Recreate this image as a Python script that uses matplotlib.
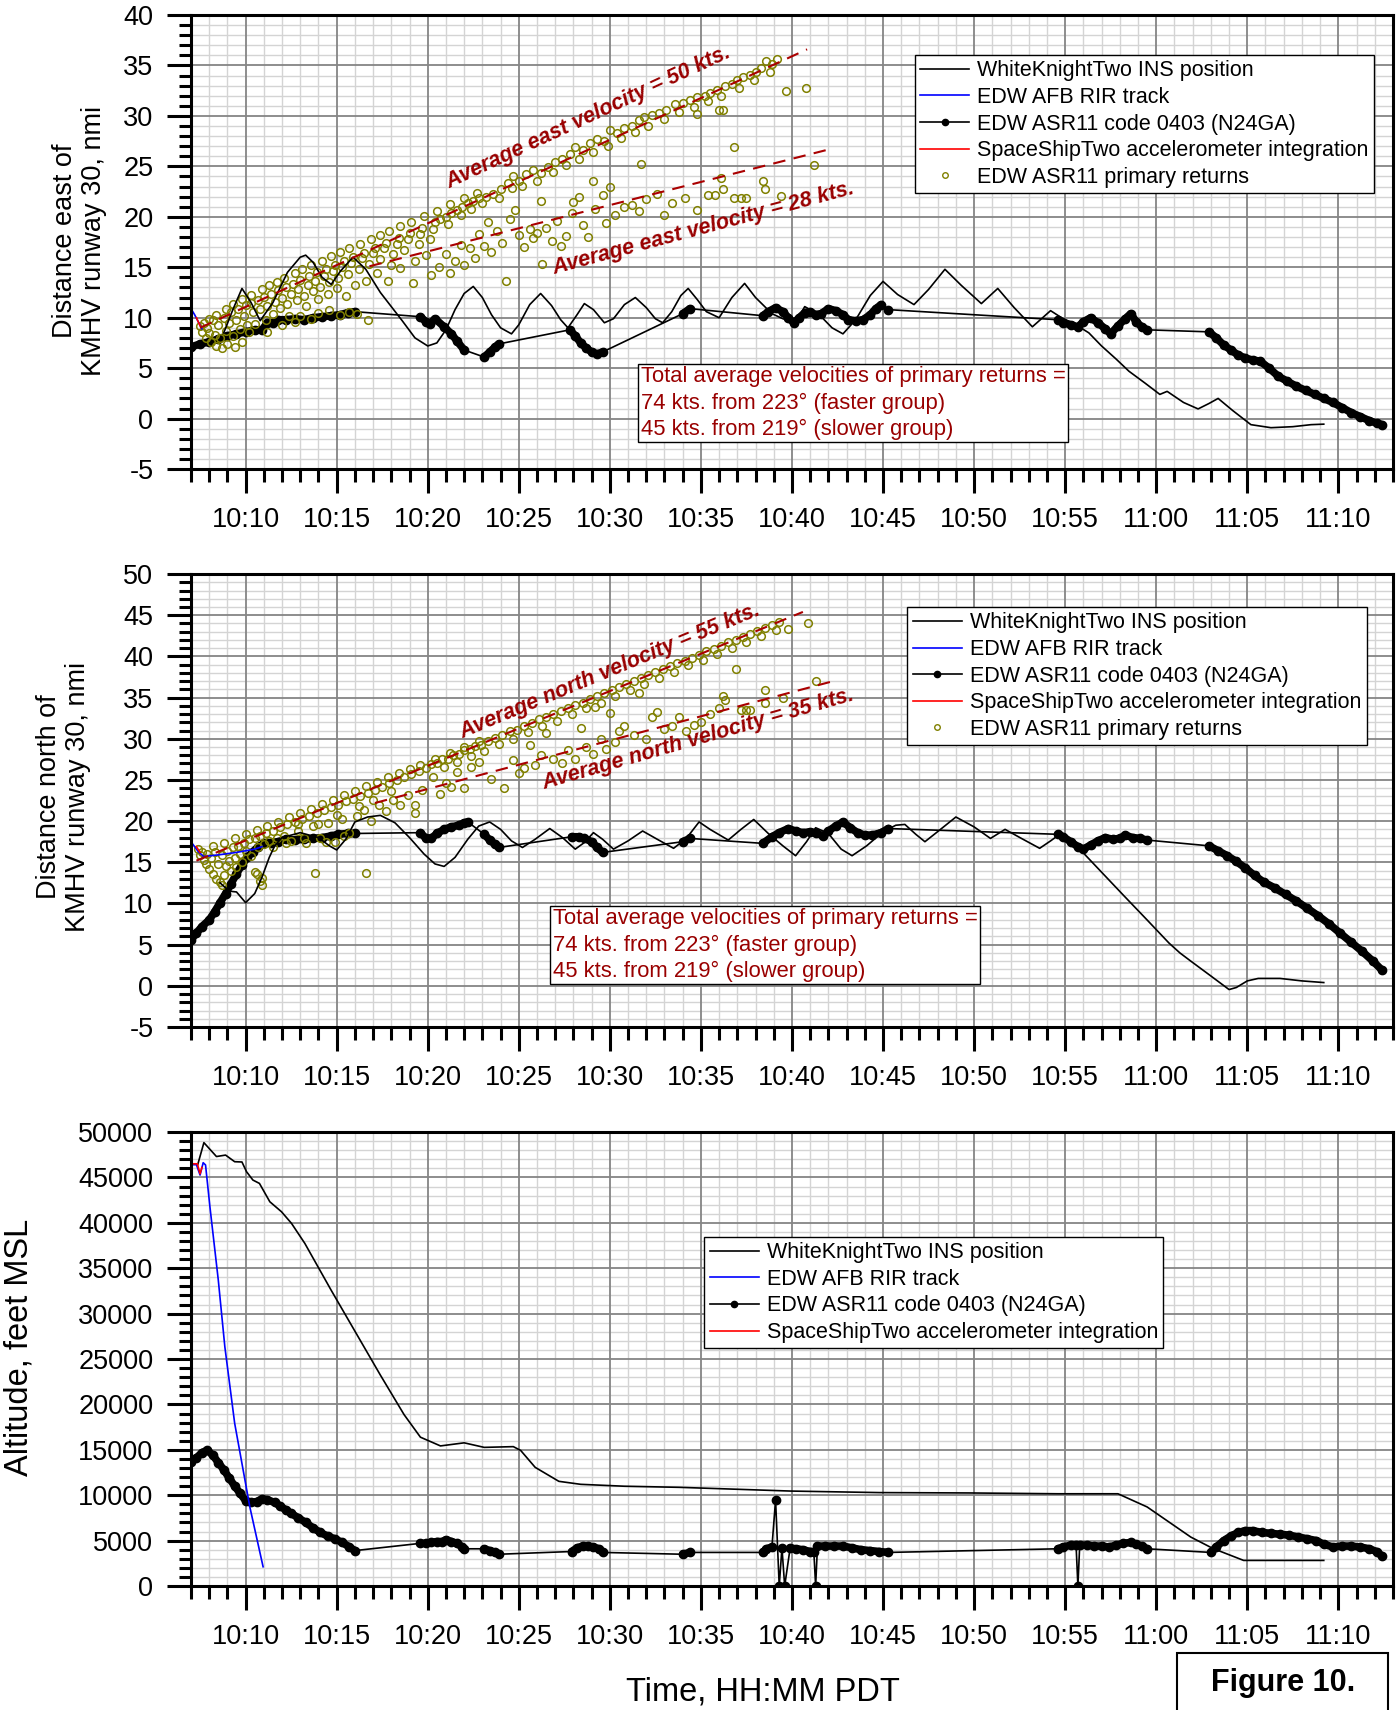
import numpy as np
import matplotlib
matplotlib.use("Agg")
import matplotlib.pyplot as plt
from matplotlib.lines import Line2D
from matplotlib.patches import Rectangle
from matplotlib.ticker import MultipleLocator, FuncFormatter

plt.rcParams['font.family'] = ['Liberation Sans', 'DejaVu Sans']
plt.rcParams['axes.unicode_minus'] = False

# time axis: minutes after 10:00 PDT
# ---------------- panel 1: distance east ----------------
ins_east_t = [8.8, 9.3, 9.8, 10.3, 10.8, 11.5, 12.3, 13.0, 13.3, 13.7, 14.2, 14.7, 15.2, 15.9, 16.6,
              17.4, 18.6, 19.3, 20.0, 20.5, 21.0, 21.5, 22.0, 22.5, 23.0, 23.5, 24.0, 24.6, 25.0,
              25.6, 26.2, 26.8, 27.3, 27.7, 28.2, 28.6, 29.1, 29.7, 30.2, 30.8, 31.4, 32.0, 32.5,
              32.9, 33.4, 33.9, 34.3, 34.8, 35.3, 36.0, 36.7, 37.4, 38.0, 38.9, 39.5, 40.2, 40.7,
              41.5, 42.2, 42.8, 43.5, 44.3, 45.0, 45.8, 46.7, 47.5, 48.4, 49.3, 50.4, 51.3, 52.2,
              53.2, 54.2, 54.8, 55.5, 56.3, 57.0, 57.8, 58.5, 59.4, 60.2, 60.6, 61.5, 62.3, 62.9,
              63.4, 64.2, 65.2, 66.3, 67.5, 68.5, 69.2]
ins_east_v = [8.5, 10.8, 12.9, 11.5, 9.7, 11.5, 14.5, 16.0, 16.2, 15.5, 14.0, 13.3, 14.6, 16.0, 14.8,
              12.5, 9.7, 8.0, 7.2, 7.5, 8.8, 10.8, 12.4, 13.1, 12.0, 10.3, 9.0, 8.4, 9.3,
              11.3, 12.4, 11.2, 9.8, 9.0, 10.3, 11.4, 10.8, 9.5, 9.9, 11.3, 12.0, 11.0, 9.9,
              9.5, 10.6, 12.2, 12.9, 11.8, 10.6, 10.0, 12.0, 13.4, 12.0, 10.4, 9.9, 9.5, 11.1,
              10.3, 9.0, 8.4, 9.8, 12.2, 13.6, 12.3, 11.3, 12.8, 14.8, 13.2, 11.4, 12.9, 11.0,
              9.1, 10.7, 10.0, 9.4, 8.5, 7.2, 5.9, 4.7, 3.5, 2.4, 2.7, 1.6, 0.96, 1.5,
              2.0, 0.8, -0.6, -0.9, -0.8, -0.6, -0.55]

rir_east_t = [7.0, 7.2, 7.4, 7.6]
rir_east_v = [10.9, 10.3, 9.6, 8.9]
ss2_east_t = [7.3, 7.5]
ss2_east_v = [10.0, 9.2]

asr_east_segs = [
    ([7.0, 7.5, 8.0, 8.5, 9.0, 9.5, 10.0, 10.5, 10.9, 11.2, 11.5, 11.8, 12.2, 12.7, 13.2, 13.7,
      14.2, 14.7, 15.2, 15.6, 16.0],
     [7.1, 7.4, 7.6, 7.9, 8.2, 8.4, 8.6, 8.8, 8.8, 9.5, 9.5, 9.8, 9.8, 9.9, 9.8, 10.0,
      10.1, 10.2, 10.3, 10.5, 10.6]),
    ([19.6, 19.9, 20.1, 20.4, 20.9, 21.3, 21.6, 22.0],
     [10.1, 9.6, 9.4, 9.9, 9.1, 8.4, 7.7, 6.8]),
    ([23.1, 23.4, 23.7, 23.9], [6.1, 6.6, 7.1, 7.4]),
    ([27.8, 28.1, 28.4, 28.7, 29.0, 29.3, 29.6], [8.8, 8.2, 7.5, 7.0, 6.6, 6.4, 6.6]),
    ([34.0, 34.4], [10.4, 10.9]),
    ([38.4, 38.7, 39.1, 39.5, 39.8, 40.1, 40.4, 40.7, 41.0, 41.3, 41.6, 42.0, 42.4, 42.8, 43.1,
      43.5, 43.9, 44.3, 44.6, 44.9],
     [10.2, 10.6, 11.0, 10.6, 10.0, 9.5, 10.0, 10.5, 10.6, 10.3, 10.4, 10.9, 10.7, 10.3, 9.8,
      9.7, 9.8, 10.3, 10.9, 11.3]),
    ([45.3], [10.8]),
    ([54.6, 54.9, 55.3, 55.7, 56.0, 56.4, 56.8, 57.2, 57.5, 57.9, 58.3, 58.6, 58.9, 59.2, 59.5],
     [9.8, 9.5, 9.3, 9.1, 9.6, 10.0, 9.5, 8.9, 8.4, 9.2, 9.9, 10.4, 9.6, 9.1, 8.8]),
    ([62.9, 63.3, 63.7, 64.1, 64.5, 64.9, 65.3, 65.7, 66.2, 66.7, 67.2, 67.7, 68.2, 68.7, 69.2,
      69.7, 70.2, 70.7, 71.2, 71.7, 72.1, 72.4],
     [8.6, 8.0, 7.3, 6.8, 6.3, 6.0, 5.8, 5.7, 5.0, 4.2, 3.7, 3.2, 2.8, 2.4, 2.0,
      1.6, 1.1, 0.6, 0.2, -0.2, -0.45, -0.6]),
]
asr_east_dense = [True, True, True, True, True, True, False, True, True]

primary_east = [
    (7.5, 9.2), (7.6, 8.6), (7.7, 9.5), (7.8, 8.0), (7.9, 9.0), (8.0, 8.5), (8.1, 7.6), (8.2, 9.8),
    (8.3, 8.3), (8.4, 7.2), (8.5, 9.3), (8.6, 8.0), (8.7, 7.0), (8.8, 10.0), (8.9, 8.7), (9.0, 7.4),
    (9.1, 9.5), (9.2, 10.6), (9.3, 8.2), (9.4, 7.1), (9.5, 9.8), (9.6, 10.9), (9.7, 8.9), (9.8, 7.6),
    (9.9, 10.2), (10.0, 11.3), (10.1, 9.3), (10.2, 8.6),
    (10.3, 11.5), (10.4, 10.6), (10.5, 9.4), (10.7, 11.8), (10.8, 10.9), (11.0, 12.1), (11.1, 9.8),
    (11.2, 11.2), (11.4, 12.4), (11.5, 10.4), (11.6, 11.6), (11.8, 12.7), (11.9, 11.0), (12.0, 12.0),
    (12.2, 13.0), (12.3, 11.4), (12.4, 10.2), (12.5, 12.4), (12.6, 13.3), (12.8, 11.8), (12.9, 12.8),
    (13.0, 13.7), (13.2, 12.2), (13.3, 11.2), (13.4, 13.2), (13.5, 14.1), (13.7, 12.6), (13.8, 13.6),
    (13.9, 14.5), (14.0, 11.9), (14.1, 13.0), (14.3, 14.1), (14.4, 14.8), (14.5, 12.4), (14.6, 13.5),
    (14.8, 14.6), (14.9, 15.2), (15.0, 12.9), (15.1, 13.9), (15.3, 15.0), (15.4, 15.6), (15.5, 12.2),
    (15.6, 14.3), (15.8, 15.4), (15.9, 16.0), (16.0, 13.2), (16.1, 10.4), (16.2, 14.8), (16.4, 15.9),
    (16.5, 16.4), (16.6, 13.6), (16.7, 9.8), (16.8, 15.3), (17.0, 16.4), (17.1, 16.9), (17.2, 14.4),
    (17.4, 15.8), (17.6, 16.9), (17.7, 17.4), (17.8, 13.6), (18.0, 15.2), (18.1, 16.3), (18.3, 17.3),
    (18.4, 17.9), (18.5, 14.9), (18.7, 16.7), (18.9, 17.8), (19.0, 18.4), (19.2, 13.4), (19.3, 15.6),
    (19.5, 17.3), (19.6, 18.3), (19.7, 18.9), (19.9, 16.2), (20.1, 17.8), (20.3, 18.8), (20.4, 19.5),
    (8.0, 9.9), (8.4, 10.3), (8.9, 10.9), (9.3, 11.4), (9.8, 11.9), (10.3, 12.3), (10.9, 12.8),
    (11.3, 13.2), (11.7, 13.5), (12.1, 13.9), (12.7, 14.4), (13.1, 14.8), (13.6, 15.2), (14.2, 15.6),
    (14.7, 16.1), (15.2, 16.5), (15.7, 16.9), (16.3, 17.3), (16.9, 17.8), (17.4, 18.2), (17.9, 18.6),
    (18.5, 19.1), (19.1, 19.5), (19.8, 20.1), (20.5, 20.6), (21.2, 21.3), (22.0, 21.9), (22.7, 22.4),
    (11.2, 8.6), (12.0, 9.3), (13.0, 10.2), (13.6, 9.9), (14.6, 10.8), (15.2, 10.3), (15.7, 10.6),
    (12.7, 9.6), (14.0, 10.5),
    (20.7, 19.8), (21.0, 20.0), (21.3, 20.4), (21.6, 20.7), (21.9, 21.0), (22.2, 21.4), (22.5, 21.6),
    (22.8, 21.9), (23.2, 22.0), (23.6, 22.3), (24.0, 22.8), (24.4, 23.4), (24.7, 24.0), (25.0, 23.6),
    (25.4, 24.2), (25.8, 24.6), (26.2, 24.3), (26.6, 24.9), (27.0, 25.4), (27.4, 25.7), (27.8, 26.2),
    (28.1, 26.9), (28.5, 26.6), (28.9, 27.3), (29.3, 27.7), (29.7, 27.5), (30.0, 28.6), (30.4, 28.3),
    (30.8, 28.8), (31.2, 29.0), (31.6, 29.6), (31.9, 29.9), (32.3, 30.1), (32.7, 30.3), (33.1, 30.6),
    (33.6, 31.2), (34.0, 31.3), (34.4, 31.6), (34.8, 31.9), (35.2, 32.0), (35.5, 32.3), (35.9, 32.6),
    (36.3, 33.0), (36.7, 33.2), (37.0, 33.6), (37.3, 33.9), (37.7, 34.1), (38.0, 34.4), (38.3, 34.8),
    (38.6, 35.4), (38.9, 35.1), (39.2, 35.6),
    (21.1, 19.3), (21.8, 20.2), (22.4, 20.8), (23.0, 21.4), (23.9, 21.9), (24.6, 22.9), (25.2, 23.1),
    (26.0, 23.6), (26.9, 24.4), (27.6, 25.1), (28.3, 25.7), (29.1, 26.4), (29.9, 27.0), (30.6, 27.8),
    (31.4, 28.4), (32.1, 29.0), (33.0, 29.7), (33.8, 30.4), (34.6, 30.9), (35.4, 31.5), (36.1, 32.0),
    (37.1, 32.8), (37.9, 33.6), (38.8, 34.4),
    (39.66, 32.5), (40.76, 32.8), (36.8, 26.9), (31.7, 25.2), (36.0, 30.6), (36.2, 30.6), (34.8, 30.2),
    (20.2, 14.2), (20.6, 15.0), (21.0, 16.3), (21.2, 14.4), (21.5, 15.6), (21.8, 17.2), (22.0, 15.2),
    (22.3, 16.9), (22.6, 15.9), (22.8, 18.3), (23.1, 17.1), (23.3, 19.5), (23.5, 16.5), (23.8, 18.6),
    (24.1, 17.4), (24.3, 13.6), (24.5, 19.8), (24.8, 20.7), (25.0, 18.2), (25.3, 17.0), (25.6, 18.8),
    (25.8, 17.9), (26.0, 18.4), (26.2, 21.6), (26.3, 15.3), (26.5, 18.9), (26.8, 17.6), (27.1, 19.6),
    (27.3, 17.1), (27.6, 18.1), (27.9, 20.4), (28.0, 21.5), (28.3, 22.0), (28.5, 19.2), (28.8, 18.0),
    (29.1, 23.6), (29.2, 20.8), (29.6, 22.2), (29.8, 19.4), (30.0, 23.0), (30.3, 20.2), (30.8, 21.0),
    (31.2, 21.2), (31.6, 20.6), (32.0, 21.8), (32.6, 22.3), (33.0, 20.2), (33.4, 21.4), (34.1, 21.9),
    (34.8, 20.7), (35.4, 22.2), (35.8, 22.2), (36.1, 23.8), (36.2, 22.8), (36.8, 21.9), (37.2, 21.9),
    (37.5, 21.9), (38.4, 23.6), (38.5, 22.8), (39.4, 22.1), (41.2, 25.1),
]

fast_east_t, fast_east_v = [7.5, 40.83], [9.0, 36.6]
slow_east_t, slow_east_v = [16.8, 41.85], [15.1, 26.6]

# ---------------- panel 2: distance north ----------------
ins_north_t = [8.6, 9.1, 9.5, 10.0, 10.5, 10.9, 11.3, 11.6, 12.0, 13.0, 14.0, 14.6, 15.0, 15.5, 16.0,
               16.7, 17.4, 18.2, 19.0, 19.8, 20.4, 20.9, 21.5, 22.2, 22.8, 23.4, 24.0, 24.6, 25.2,
               25.9, 26.7, 27.4, 28.1, 28.6, 29.1, 29.6, 30.2, 31.0, 31.8, 32.6, 33.5, 34.2, 34.9,
               35.5, 36.5, 37.2, 37.9, 38.7, 39.5, 40.2, 40.8, 41.3, 42.0, 42.7, 43.3, 44.1, 45.0,
               45.7, 46.2, 46.8, 47.3, 48.1, 49.0, 50.0, 50.9, 51.7, 52.6, 53.6, 54.2, 54.7, 55.3,
               55.8, 57.0, 58.2, 59.5, 60.7, 61.3, 61.9, 63.0, 64.0, 64.4, 65.0, 65.6, 66.8, 68.0, 69.2]
ins_north_v = [12.5, 11.5, 11.4, 10.1, 11.2, 13.2, 15.6, 17.0, 18.0, 18.6, 18.0, 17.0, 16.5, 17.8, 19.9,
               20.5, 20.7, 19.8, 18.0, 16.0, 14.8, 14.5, 15.6, 17.8, 19.4, 19.9, 19.0, 17.6, 16.8,
               17.8, 19.1, 18.0, 16.6, 17.4, 18.6, 17.8, 16.6, 17.6, 18.8, 17.8, 16.7, 17.9, 19.9,
               19.0, 17.7, 19.0, 20.2, 18.5, 17.0, 15.8, 17.5, 19.2, 18.5, 16.6, 15.8, 17.0, 18.7,
               19.5, 19.6, 18.4, 17.5, 18.9, 20.5, 19.3, 17.9, 19.0, 17.9, 16.7, 17.6, 18.4, 17.6,
               16.6, 13.8, 11.0, 8.0, 5.2, 4.0, 3.0, 1.2, -0.45, -0.2, 0.6, 0.9, 0.9, 0.6, 0.4]

rir_north_t = [7.0, 7.4, 7.7, 8.5, 9.5, 10.5, 10.9]
rir_north_v = [17.5, 16.3, 15.7, 15.9, 16.2, 16.6, 16.9]
ss2_north_t = [7.3, 7.5]
ss2_north_v = [16.9, 16.2]

asr_north_segs = [
    ([7.0, 7.3, 7.6, 8.0, 8.3, 8.6, 8.9, 9.2, 9.5, 9.8, 10.1, 10.4, 10.7, 11.0, 11.4, 11.8,
      12.2, 12.7, 13.2, 13.7, 14.2, 14.7, 15.1, 15.6, 16.0],
     [5.6, 6.4, 7.2, 8.0, 9.0, 10.1, 11.2, 12.4, 13.6, 14.7, 15.6, 16.3, 16.9, 17.3, 17.4, 17.5,
      17.8, 17.7, 17.8, 17.9, 18.0, 18.2, 18.4, 18.5, 18.5]),
    ([19.6, 19.9, 20.2, 20.5, 20.9, 21.3, 21.7, 22.0, 22.2],
     [18.6, 17.9, 17.9, 18.5, 19.0, 19.3, 19.5, 19.8, 19.9]),
    ([23.1, 23.4, 23.7, 23.9], [18.4, 17.7, 17.2, 16.8]),
    ([27.9, 28.3, 28.6, 29.0, 29.3, 29.6], [18.1, 18.1, 17.9, 17.5, 16.8, 16.2]),
    ([34.0, 34.4], [17.5, 17.9]),
    ([38.4, 38.9, 39.3, 39.8, 40.2, 40.6, 41.0, 41.3, 41.7, 42.0, 42.4, 42.8, 43.2, 43.6, 44.0,
      44.4, 44.9, 45.3],
     [17.3, 18.1, 18.6, 19.1, 18.8, 18.6, 18.7, 18.6, 18.2, 18.8, 19.4, 19.9, 19.2, 18.6, 18.3,
      18.3, 18.6, 19.1]),
    ([54.6, 54.9, 55.3, 55.7, 56.0, 56.4, 56.8, 57.2, 57.6, 58.0, 58.3, 58.7, 59.1, 59.5],
     [18.4, 18.1, 17.5, 16.9, 16.6, 17.1, 17.6, 18.0, 17.8, 17.9, 18.3, 18.0, 17.9, 17.7]),
    ([62.9, 63.4, 63.9, 64.4, 64.9, 65.4, 65.9, 66.5, 67.1, 67.7, 68.3, 68.9, 69.5, 70.1, 70.7,
      71.3, 71.9, 72.4],
     [17.0, 16.4, 15.8, 15.1, 14.3, 13.4, 12.6, 11.9, 11.1, 10.3, 9.4, 8.5, 7.5, 6.4, 5.3,
      4.2, 3.0, 1.9]),
]
asr_north_dense = [True] * 8

primary_north = [
    (7.4, 16.6), (7.5, 15.9), (7.6, 16.3), (7.7, 15.3), (7.8, 14.8), (7.9, 16.0), (8.0, 14.2), (8.1, 15.5),
    (8.2, 13.6), (8.3, 16.2), (8.4, 13.0), (8.5, 14.8), (8.6, 12.6), (8.7, 12.2), (8.7, 15.9), (8.8, 13.4),
    (8.9, 14.5), (9.0, 16.4), (9.1, 15.2), (9.2, 13.9), (9.3, 16.9), (9.4, 15.5), (9.5, 14.4), (9.6, 17.0),
    (9.7, 16.0), (9.8, 15.0), (9.9, 17.4), (10.0, 16.4), (10.2, 17.8), (10.3, 15.8), (10.5, 13.8),
    (10.6, 13.6), (10.9, 12.2), (10.7, 16.9),
    (10.5, 17.9), (10.8, 18.2), (11.0, 17.2), (11.1, 18.5), (11.3, 17.6), (11.5, 18.8), (11.7, 17.9),
    (11.9, 19.3), (12.1, 18.2), (12.3, 19.6), (12.5, 17.6), (12.7, 19.9), (12.9, 18.8), (13.1, 20.2),
    (13.3, 17.4), (13.5, 20.6), (13.7, 19.4), (13.8, 13.7), (13.9, 21.0), (14.1, 18.0), (14.3, 21.3),
    (14.5, 19.8), (14.7, 21.7), (14.9, 17.5), (15.1, 22.0), (15.3, 20.2), (15.5, 22.4), (15.7, 18.6),
    (15.9, 22.7), (16.1, 20.6), (16.3, 23.1), (16.5, 21.4), (16.6, 13.7), (16.7, 23.4), (16.9, 20.0),
    (17.1, 23.8), (17.3, 22.0), (17.5, 24.2), (17.7, 21.2), (17.9, 24.6), (18.1, 22.6), (18.3, 25.0),
    (18.5, 21.9), (18.7, 25.3), (18.9, 23.2), (19.1, 25.7), (19.3, 22.0), (19.5, 26.1), (19.7, 23.8),
    (19.9, 26.5), (19.3, 21.0),
    (8.2, 17.0), (8.8, 17.3), (9.4, 17.9), (10.0, 18.4), (10.6, 18.9), (11.2, 19.4), (11.8, 19.9),
    (12.4, 20.5), (13.0, 21.0), (13.6, 21.5), (14.2, 22.1), (14.8, 22.6), (15.4, 23.2), (16.0, 23.7),
    (16.6, 24.3), (17.2, 24.7), (17.8, 25.3), (18.4, 25.8), (19.0, 26.3), (19.6, 26.8), (20.4, 27.5),
    (21.2, 28.3), (22.0, 29.0), (22.8, 29.7), (12.2, 17.4), (13.2, 17.9), (14.4, 17.5), (15.4, 18.2),
    (11.5, 16.9), (10.9, 13.1), (10.8, 12.7), (12.9, 19.6), (14.0, 19.7), (15.0, 20.8), (16.2, 21.8),
    (17.0, 22.6), (18.0, 23.6),
    (20.2, 26.9), (20.5, 27.0), (20.8, 27.5), (21.1, 27.6), (21.4, 28.0), (21.7, 28.2), (22.0, 28.6),
    (22.3, 28.7), (22.6, 29.1), (22.9, 29.3), (23.3, 29.7), (23.7, 30.1), (24.1, 30.4), (24.5, 30.9),
    (24.9, 31.1), (25.3, 31.6), (25.7, 31.9), (26.1, 32.4), (26.5, 32.6), (26.9, 33.0), (27.3, 33.4),
    (27.7, 33.7), (28.1, 34.1), (28.5, 34.4), (28.9, 34.8), (29.3, 35.2), (29.7, 35.5), (30.1, 35.9),
    (30.5, 36.3), (30.9, 36.7), (31.3, 37.0), (31.7, 37.4), (32.1, 37.7), (32.5, 38.1), (32.9, 38.5),
    (33.3, 38.8), (33.7, 39.2), (34.1, 39.5), (34.5, 39.8), (34.9, 40.2), (35.3, 40.6), (35.7, 40.9),
    (36.1, 41.3), (36.5, 41.7), (36.9, 42.0), (37.3, 42.4), (37.7, 42.7), (38.1, 43.1), (38.5, 43.4),
    (38.9, 43.8), (39.3, 44.2),
    (20.9, 26.6), (21.6, 27.2), (22.4, 27.9), (23.1, 28.5), (23.9, 29.4), (24.7, 30.0), (25.5, 30.8),
    (26.3, 31.5), (27.1, 32.2), (27.9, 33.0), (28.7, 33.7), (29.5, 34.4), (30.3, 35.2), (31.1, 35.9),
    (31.9, 36.7), (32.7, 37.4), (33.5, 38.1), (34.3, 38.9), (35.1, 39.6), (35.9, 40.3), (36.7, 41.0),
    (37.5, 41.8), (38.3, 42.5), (39.1, 43.2),
    (20.3, 25.3), (20.7, 23.3), (21.0, 24.6), (21.3, 24.2), (21.6, 26.0), (22.0, 24.0), (22.4, 26.6),
    (22.8, 27.2), (23.5, 25.1), (24.2, 24.0), (24.7, 27.4),
    (25.0, 25.9), (25.3, 26.5), (25.6, 29.2), (25.9, 26.8), (26.2, 28.0), (26.5, 30.7), (26.9, 27.6),
    (27.4, 27.1), (27.7, 28.6), (28.1, 27.6), (28.4, 31.3), (28.7, 29.0), (29.1, 28.1), (29.2, 33.9),
    (29.5, 30.0), (29.8, 28.7), (30.0, 33.1), (30.3, 29.6), (30.5, 30.9), (30.8, 31.5), (31.3, 30.5),
    (31.6, 35.6), (32.0, 30.0), (32.3, 32.6), (32.6, 33.3), (33.0, 31.2), (33.4, 31.5), (33.8, 32.6),
    (34.2, 31.0), (34.6, 31.7), (35.0, 32.0), (35.5, 33.0), (36.0, 33.7), (36.2, 35.2), (36.3, 34.7),
    (36.9, 38.5), (37.2, 33.5), (37.5, 33.5), (37.7, 33.5), (38.5, 35.9), (38.5, 34.4), (39.5, 35.0),
    (39.8, 43.3), (40.9, 44.1), (41.3, 37.0),
]

fast_north_t, fast_north_v = [7.3, 40.6], [15.2, 45.4]
slow_north_t, slow_north_v = [17.1, 42.1], [22.2, 36.9]

# ---------------- panel 3: altitude ----------------
ins_alt_t = [7.37, 7.71, 8.4, 8.9, 9.4, 9.8, 10.05, 10.4, 10.76, 11.33, 11.97, 12.52, 13.25, 14.7,
             15.9, 17.4, 18.7, 19.6, 20.7, 22.0, 23.1, 24.7, 25.1, 25.9, 27.2, 28.4, 30.8, 33.8,
             35.0, 39.9, 44.8, 49.7, 54.6, 57.9, 59.5, 60.7, 61.9, 63.1, 64.8, 69.2]
ins_alt_v = [46400, 48830, 47300, 47460, 46730, 46700, 45630, 44710, 44340, 42320, 41220, 39940, 37740,
             32570, 28420, 23230, 18880, 16390, 15430, 15770, 15270, 15350, 14940, 13070, 11530,
             11200, 10990, 10870, 10790, 10460, 10290, 10250, 10160, 10160, 8710, 7050, 5390, 4150,
             2820, 2820]

rir_alt_t = [7.0, 7.3, 7.5, 7.67, 7.8, 8.04, 8.5, 8.86, 9.4, 10.23, 10.96]
rir_alt_v = [46400, 46400, 45260, 46620, 46370, 41780, 33700, 26350, 17920, 8730, 2120]
ss2_alt_t = [7.05, 7.35, 7.5, 7.6]
ss2_alt_v = [46500, 46500, 45400, 46100]

asr_alt_segs = [
    ([7.0, 7.3, 7.6, 7.9, 8.2, 8.5, 8.8, 9.1, 9.4, 9.7, 10.0, 10.3, 10.6, 10.9, 11.2, 11.6,
      11.9, 12.2, 12.5, 12.9, 13.3, 13.7, 14.1, 14.5, 14.9, 15.3, 15.7, 16.0],
     [13700, 14100, 14700, 14950, 14400, 13600, 12800, 11900, 11000, 10200, 9400, 9200, 9300,
      9600, 9500, 9200, 8800, 8400, 8000, 7500, 7000, 6400, 5900, 5500, 5200, 4800, 4300, 3900]),
    ([19.6, 19.9, 20.2, 20.5, 20.8, 21.0, 21.3, 21.6, 21.9, 22.0],
     [4700, 4700, 4800, 4900, 4900, 5100, 4900, 4700, 4300, 4100]),
    ([23.1, 23.4, 23.7, 23.9], [4100, 3900, 3700, 3500]),
    ([27.9, 28.2, 28.5, 28.8, 29.1, 29.4, 29.6], [3800, 4200, 4400, 4400, 4300, 4100, 3700]),
    ([34.0, 34.4], [3500, 3700]),
    ([38.4, 38.6, 38.9], [3700, 4100, 4300]),
    ([39.1, 39.3, 39.45, 39.6], [9460, 0, 4200, 0]),
    ([39.9, 40.2, 40.6, 41.0, 41.2], [4200, 4100, 4000, 3800, 3800]),
    ([41.3], [0]),
    ([41.4, 41.8, 42.3, 42.8, 43.3, 43.8, 44.3, 44.8, 45.3],
     [4400, 4400, 4400, 4400, 4200, 4000, 3900, 3800, 3700]),
    ([54.6, 54.9, 55.3, 55.6], [4100, 4300, 4500, 4500]),
    ([55.7], [0]),
    ([55.8, 56.2, 56.6, 57.0, 57.4, 57.8, 58.2, 58.6, 58.9, 59.2, 59.5],
     [4500, 4500, 4400, 4400, 4300, 4500, 4700, 4800, 4600, 4400, 4100]),
    ([63.0, 63.3, 63.7, 64.1, 64.5, 64.9, 65.3, 65.8, 66.3, 66.8, 67.3, 67.8, 68.3, 68.8, 69.2,
      69.7, 70.2, 70.7, 71.2, 71.7, 72.1, 72.4],
     [3700, 4300, 5000, 5500, 5900, 6100, 6100, 5900, 5800, 5700, 5600, 5400, 5200, 5000, 4600,
      4300, 4400, 4400, 4300, 4100, 3800, 3300]),
]
asr_alt_dense = [True, True, True, True, True, True, False, True, False, True, True, False, True, True]

legend_labels = ["WhiteKnightTwo INS position", "EDW AFB RIR track",
                 "EDW ASR11 code 0403 (N24GA)", "SpaceShipTwo accelerometer integration",
                 "EDW ASR11 primary returns"]
box_text = ("Total average velocities of primary returns =\n"
            "74 kts. from 223\u00b0 (faster group)\n"
            "45 kts. from 219\u00b0 (slower group)")

DARKRED = '#990000'
OLIVE = '#808000'
FS = 19.5
LEG_FS = 15.5


def time_label(m, pos):
    m = int(round(m))
    return f"{10 + m // 60}:{m % 60:02d}"


def style(ax, ylo, yhi, ymaj, ymin):
    # grid drawn by hand so the dark major lines sit on top of the light minor ones
    xs = np.arange(7, 74, 1)
    ys = np.arange(ylo, yhi + ymin, ymin)
    ax.vlines([x for x in xs if x % 5 != 0], ylo, yhi, colors='#d4d4d4', lw=1.0, zorder=0.1)
    ax.hlines([y for y in ys if y % ymaj != 0], 7, 73, colors='#d4d4d4', lw=1.0, zorder=0.1)
    ax.vlines([x for x in xs if x % 5 == 0], ylo, yhi, colors='#858585', lw=1.3, zorder=0.2)
    ax.hlines([y for y in ys if y % ymaj == 0], 7, 73, colors='#858585', lw=1.3, zorder=0.2)
    ax.set_xlim(7, 73)
    ax.set_ylim(ylo, yhi)
    ax.xaxis.set_major_locator(MultipleLocator(5))
    ax.xaxis.set_minor_locator(MultipleLocator(1))
    ax.xaxis.set_major_formatter(FuncFormatter(time_label))
    ax.yaxis.set_major_locator(MultipleLocator(ymaj))
    ax.yaxis.set_minor_locator(MultipleLocator(ymin))
    for s in ax.spines.values():
        s.set_linewidth(2.2)
        s.set_zorder(20)
    ax.tick_params(which='major', direction='out', length=17, width=2.2, labelsize=FS, pad=10)
    ax.tick_params(which='minor', direction='out', length=9, width=2.2)


def draw_asr(ax, segs, dense):
    t_all = np.concatenate([s[0] for s in segs])
    v_all = np.concatenate([s[1] for s in segs])
    ax.plot(t_all, v_all, color='black', lw=1.2, zorder=2)
    for (t, v), d in zip(segs, dense):
        if d and len(t) > 1:
            ax.plot(t, v, color='black', lw=5.5, solid_capstyle='round', zorder=2)
    ax.plot(t_all, v_all, ls='none', marker='o', ms=6, color='black', zorder=2)


def handles(with_primary=True):
    h = [Line2D([], [], color='black', lw=1.2),
         Line2D([], [], color='blue', lw=1.2),
         Line2D([], [], color='black', lw=1.2, marker='o', ms=4.5),
         Line2D([], [], color='red', lw=1.2)]
    if with_primary:
        h.append(Line2D([], [], ls='none', marker='o', ms=4, mfc='none', mec=OLIVE, mew=1))
    return h


def add_legend(ax, with_primary, loc, anchor):
    n = 5 if with_primary else 4
    leg = ax.legend(handles(with_primary), legend_labels[:n], loc=loc, bbox_to_anchor=anchor,
                    fontsize=LEG_FS, frameon=True, fancybox=False, framealpha=1,
                    edgecolor='black', borderaxespad=0, borderpad=0.25, labelspacing=0.26,
                    handlelength=2.3, handletextpad=0.35, numpoints=1)
    leg.get_frame().set_linewidth(1.0)
    leg.set_zorder(10)


def primary(ax, pts):
    p = np.array(pts)
    ax.plot(p[:, 0], p[:, 1], ls='none', marker='o', ms=5.5, mfc='none', mec=OLIVE,
            mew=1.1, zorder=3)


fig = plt.figure(figsize=(13.98, 17.10), dpi=100)
ax1 = fig.add_axes([0.1366, 0.7257, 0.8598, 0.2655])
ax2 = fig.add_axes([0.1366, 0.3994, 0.8598, 0.2649])
ax3 = fig.add_axes([0.1366, 0.0725, 0.8598, 0.2655])

# panel 1
style(ax1, -5, 40, 5, 1)
draw_asr(ax1, asr_east_segs, asr_east_dense)
primary(ax1, primary_east)
ax1.plot(ins_east_t, ins_east_v, color='black', lw=1.2, zorder=4)
ax1.plot(rir_east_t, rir_east_v, color='blue', lw=1.2, zorder=4)
ax1.plot(ss2_east_t, ss2_east_v, color='red', lw=1.2, zorder=4)
ax1.plot(fast_east_t, fast_east_v, color='#aa0000', lw=1.5, ls=(0, (6, 4)), zorder=5)
ax1.plot(slow_east_t, slow_east_v, color='#aa0000', lw=1.5, ls=(0, (6, 4)), zorder=5)
ax1.text(0.331, 0.775, "Average east velocity = 50 kts.", transform=ax1.transAxes, rotation=25,
         ha='center', va='center', color=DARKRED, fontsize=LEG_FS, fontweight='bold',
         fontstyle='italic', rotation_mode='anchor', zorder=6)
ax1.text(0.426, 0.529, "Average east velocity = 28 kts.", transform=ax1.transAxes, rotation=15,
         ha='center', va='center', color=DARKRED, fontsize=LEG_FS, fontweight='bold',
         fontstyle='italic', rotation_mode='anchor', zorder=6)
ax1.text(0.374, 0.1454, box_text, transform=ax1.transAxes, ha='left', va='center',
         color=DARKRED, fontsize=15.8, linespacing=1.32, zorder=9,
         bbox=dict(boxstyle='square,pad=0.12', fc='white', ec='black', lw=1.0))
add_legend(ax1, True, 'upper right', (0.984, 0.912))
ax1.set_ylabel("Distance east of\nKMHV runway 30, nmi", fontsize=FS, linespacing=1.15)
ax1.yaxis.set_label_coords(-0.070, 0.502)

# panel 2
style(ax2, -5, 50, 5, 1)
draw_asr(ax2, asr_north_segs, asr_north_dense)
primary(ax2, primary_north)
ax2.plot(ins_north_t, ins_north_v, color='black', lw=1.2, zorder=4)
ax2.plot(rir_north_t, rir_north_v, color='blue', lw=1.2, zorder=4)
ax2.plot(ss2_north_t, ss2_north_v, color='red', lw=1.2, zorder=4)
ax2.plot(fast_north_t, fast_north_v, color='#aa0000', lw=1.5, ls=(0, (6, 4)), zorder=5)
ax2.plot(slow_north_t, slow_north_v, color='#aa0000', lw=1.5, ls=(0, (6, 4)), zorder=5)
ax2.text(0.349, 0.786, "Average north velocity = 55 kts.", transform=ax2.transAxes, rotation=22.5,
         ha='center', va='center', color=DARKRED, fontsize=LEG_FS, fontweight='bold',
         fontstyle='italic', rotation_mode='anchor', zorder=6)
ax2.text(0.422, 0.636, "Average north velocity = 35 kts.", transform=ax2.transAxes, rotation=16,
         ha='center', va='center', color=DARKRED, fontsize=LEG_FS, fontweight='bold',
         fontstyle='italic', rotation_mode='anchor', zorder=6)
ax2.text(0.301, 0.181, box_text, transform=ax2.transAxes, ha='left', va='center',
         color=DARKRED, fontsize=15.8, linespacing=1.32, zorder=9,
         bbox=dict(boxstyle='square,pad=0.12', fc='white', ec='black', lw=1.0))
add_legend(ax2, True, 'upper right', (0.978, 0.927))
ax2.set_ylabel("Distance north of\nKMHV runway 30, nmi", fontsize=FS, linespacing=1.15)
ax2.yaxis.set_label_coords(-0.083, 0.508)

# panel 3
style(ax3, 0, 50000, 5000, 1000)
draw_asr(ax3, asr_alt_segs, asr_alt_dense)
ax3.plot(ins_alt_t, ins_alt_v, color='black', lw=1.2, zorder=4)
ax3.plot(rir_alt_t, rir_alt_v, color='blue', lw=1.2, zorder=4)
ax3.plot(ss2_alt_t, ss2_alt_v, color='red', lw=1.2, zorder=4)
add_legend(ax3, False, 'upper left', (0.427, 0.769))
ax3.set_ylabel("Altitude, feet MSL", fontsize=23.5)
ax3.yaxis.set_label_coords(-0.13, 0.526)
ax3.set_xlabel("Time, HH:MM PDT", fontsize=23.5)
ax3.xaxis.set_label_coords(0.476, -0.2)

# figure tag box
fig.add_artist(Rectangle((0.8417, -0.01), 0.1514, 0.0435, transform=fig.transFigure,
                         fc='white', ec='black', lw=1.5))
fig.text(0.9177, 0.0158, "Figure 10.", ha='center', va='center', fontsize=22, fontweight='bold')

fig.savefig("out.png", dpi=100)
